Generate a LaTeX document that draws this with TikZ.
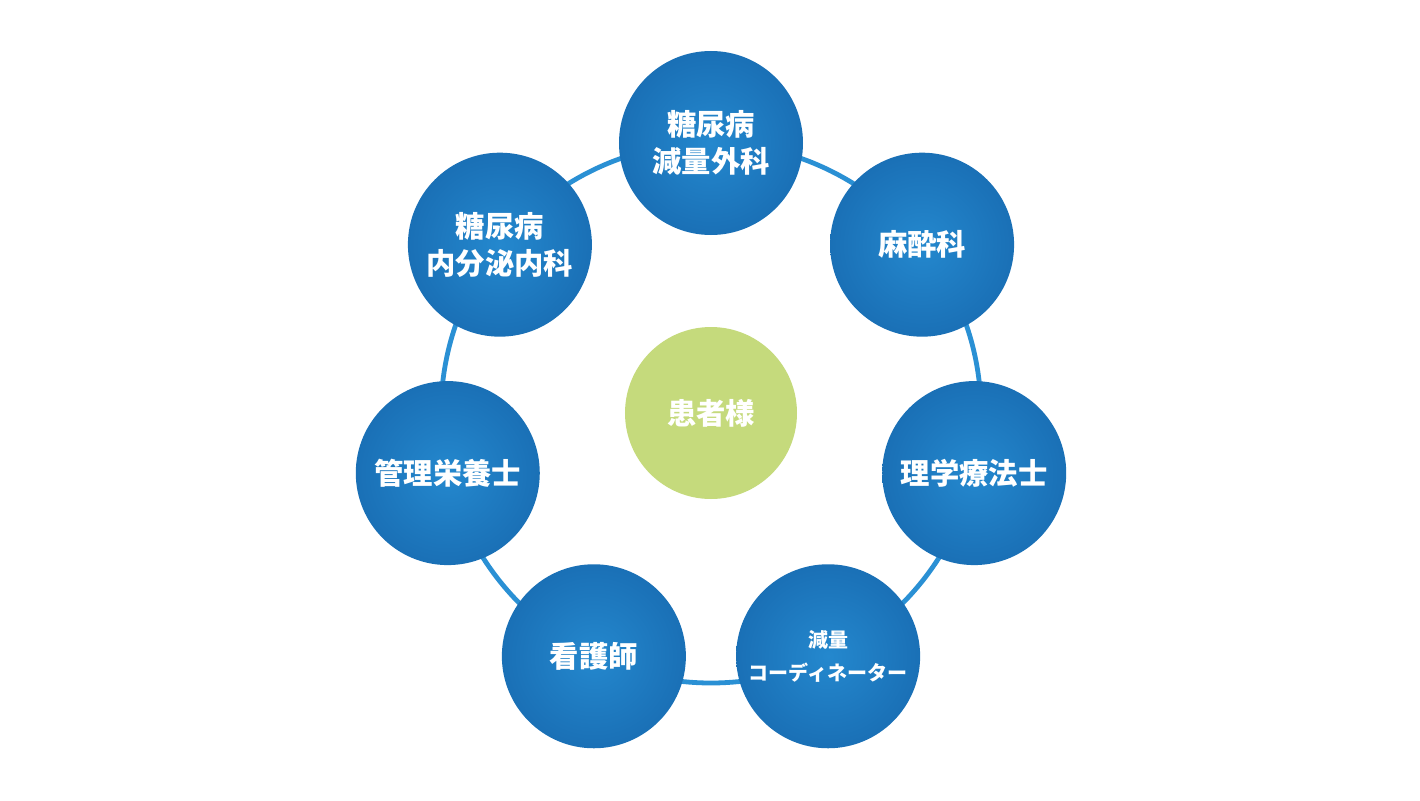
\documentclass[tikz,border=0pt]{standalone}
\usepackage{fontspec}
\setmainfont{Noto Sans CJK JP}
\usepackage{tikz}
\usetikzlibrary{positioning}
\definecolor{teamblue}{HTML}{1A70B6}
\definecolor{teamlight}{HTML}{2488CE}
\definecolor{ringblue}{HTML}{2A90D4}
\definecolor{patientgreen}{HTML}{C5DA7C}

\begin{document}
\begin{tikzpicture}[
    x=0.75pt, y=0.75pt,
    member/.style={circle, minimum size=184*0.75pt, inner sep=0pt,
                   inner color=teamlight, outer color=teamblue,
                   text=white, align=center, font=\fontsize{22}{28}\selectfont\bfseries},
    smallmember/.style={member, font=\fontsize{15}{25}\selectfont\bfseries},
    patient/.style={circle, fill=patientgreen, minimum size=172*0.75pt, inner sep=0pt,
                    text=white, align=center, font=\fontsize{22}{28}\selectfont\bfseries},
    ring/.style={draw=ringblue, line width=3.6pt},
]
\useasboundingbox (-711,-387) rectangle (709,413);

% centre
\node[patient] (hub) at (0,0) {患者様};

% ring behind the team
\draw[ring] (hub.center) circle (270);

% team around the patient
\node[member] (surgery)   at (90:270)      {糖尿病\\減量外科};
\node[member] (anesth)    at (38.57:270)   {麻酔科};
\node[member] (physio)    at (-12.86:270)  {理学療法士};
\node[smallmember] (coord) at (-64.29:270) {減量\\コーディネーター};
\node[member] (nurse)     at (-115.71:270) {看護師};
\node[member] (dietitian) at (-167.14:270) {管理栄養士};
\node[member] (endo)      at (141.43:270)  {糖尿病\\内分泌内科};
\end{tikzpicture}
\end{document}
